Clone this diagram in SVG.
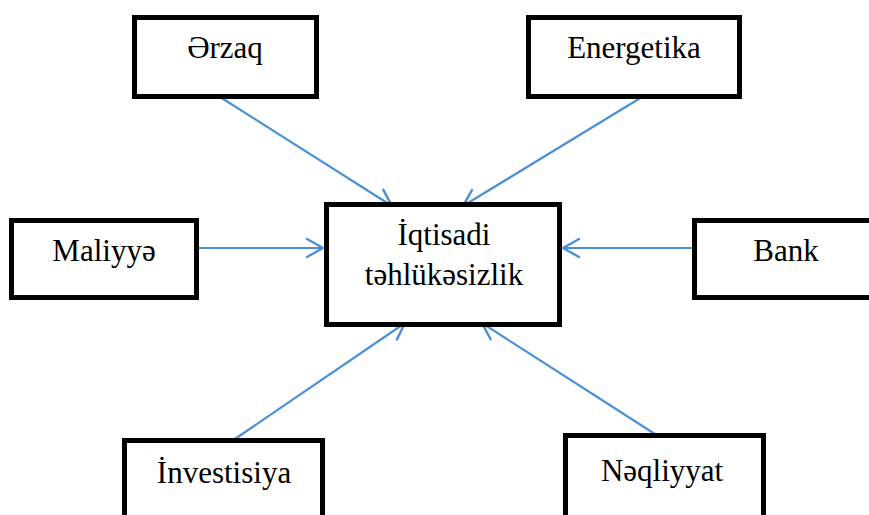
<svg xmlns="http://www.w3.org/2000/svg" width="869" height="515" viewBox="0 0 869 515">
<defs>
<style>
.box{fill:#fff;stroke:#000;stroke-width:5}
.lbl{font-family:"Liberation Serif","Times New Roman","DejaVu Serif",serif;font-size:31px;fill:#000;text-anchor:middle}
.conn{stroke:#4a90d9;stroke-width:2.2;fill:none;marker-end:url(#arr)}
</style>
<marker id="arr" markerUnits="userSpaceOnUse" markerWidth="22" markerHeight="22" refX="19" refY="11" orient="auto">
<path d="M3,2 L19,11 L3,20" fill="none" stroke="#4a90d9" stroke-width="2.5" stroke-linecap="round" stroke-linejoin="round"/>
</marker>
</defs>
<rect width="869" height="515" fill="#fff"/>
<g id="connectors">
<line class="conn" x1="220" y1="97" x2="392" y2="206"/>
<line class="conn" x1="642" y1="97" x2="463" y2="206"/>
<line class="conn" x1="199" y1="248" x2="323" y2="248"/>
<line class="conn" x1="692" y1="248" x2="563" y2="248"/>
<line class="conn" x1="235" y1="439" x2="405" y2="323"/>
<line class="conn" x1="658" y1="436" x2="482" y2="323"/>
</g>
<g id="erzaq">
<rect class="box" x="134.5" y="17.5" width="182" height="79"/>
<text class="lbl" x="225" y="58">Ərzaq</text>
</g>
<g id="energetika">
<rect class="box" x="528.5" y="17.5" width="211" height="79"/>
<text class="lbl" x="634" y="58">Energetika</text>
</g>
<g id="iqtisadi">
<rect class="box" x="326.5" y="204.5" width="233" height="120"/>
<text class="lbl" x="444" y="245">İqtisadi</text>
<text class="lbl" x="444" y="285">təhlükəsizlik</text>
</g>
<g id="maliyye">
<rect class="box" x="11.5" y="220.5" width="185" height="77"/>
<text class="lbl" x="104" y="261">Maliyyə</text>
</g>
<g id="bank">
<rect class="box" x="694.5" y="220.5" width="183" height="77"/>
<text class="lbl" x="786" y="261">Bank</text>
</g>
<g id="investisiya">
<rect class="box" x="124.5" y="440.5" width="198" height="85"/>
<text class="lbl" x="224" y="483">İnvestisiya</text>
</g>
<g id="neqliyyat">
<rect class="box" x="565.5" y="435.5" width="198" height="90"/>
<text class="lbl" x="662" y="481">Nəqliyyat</text>
</g>
</svg>
